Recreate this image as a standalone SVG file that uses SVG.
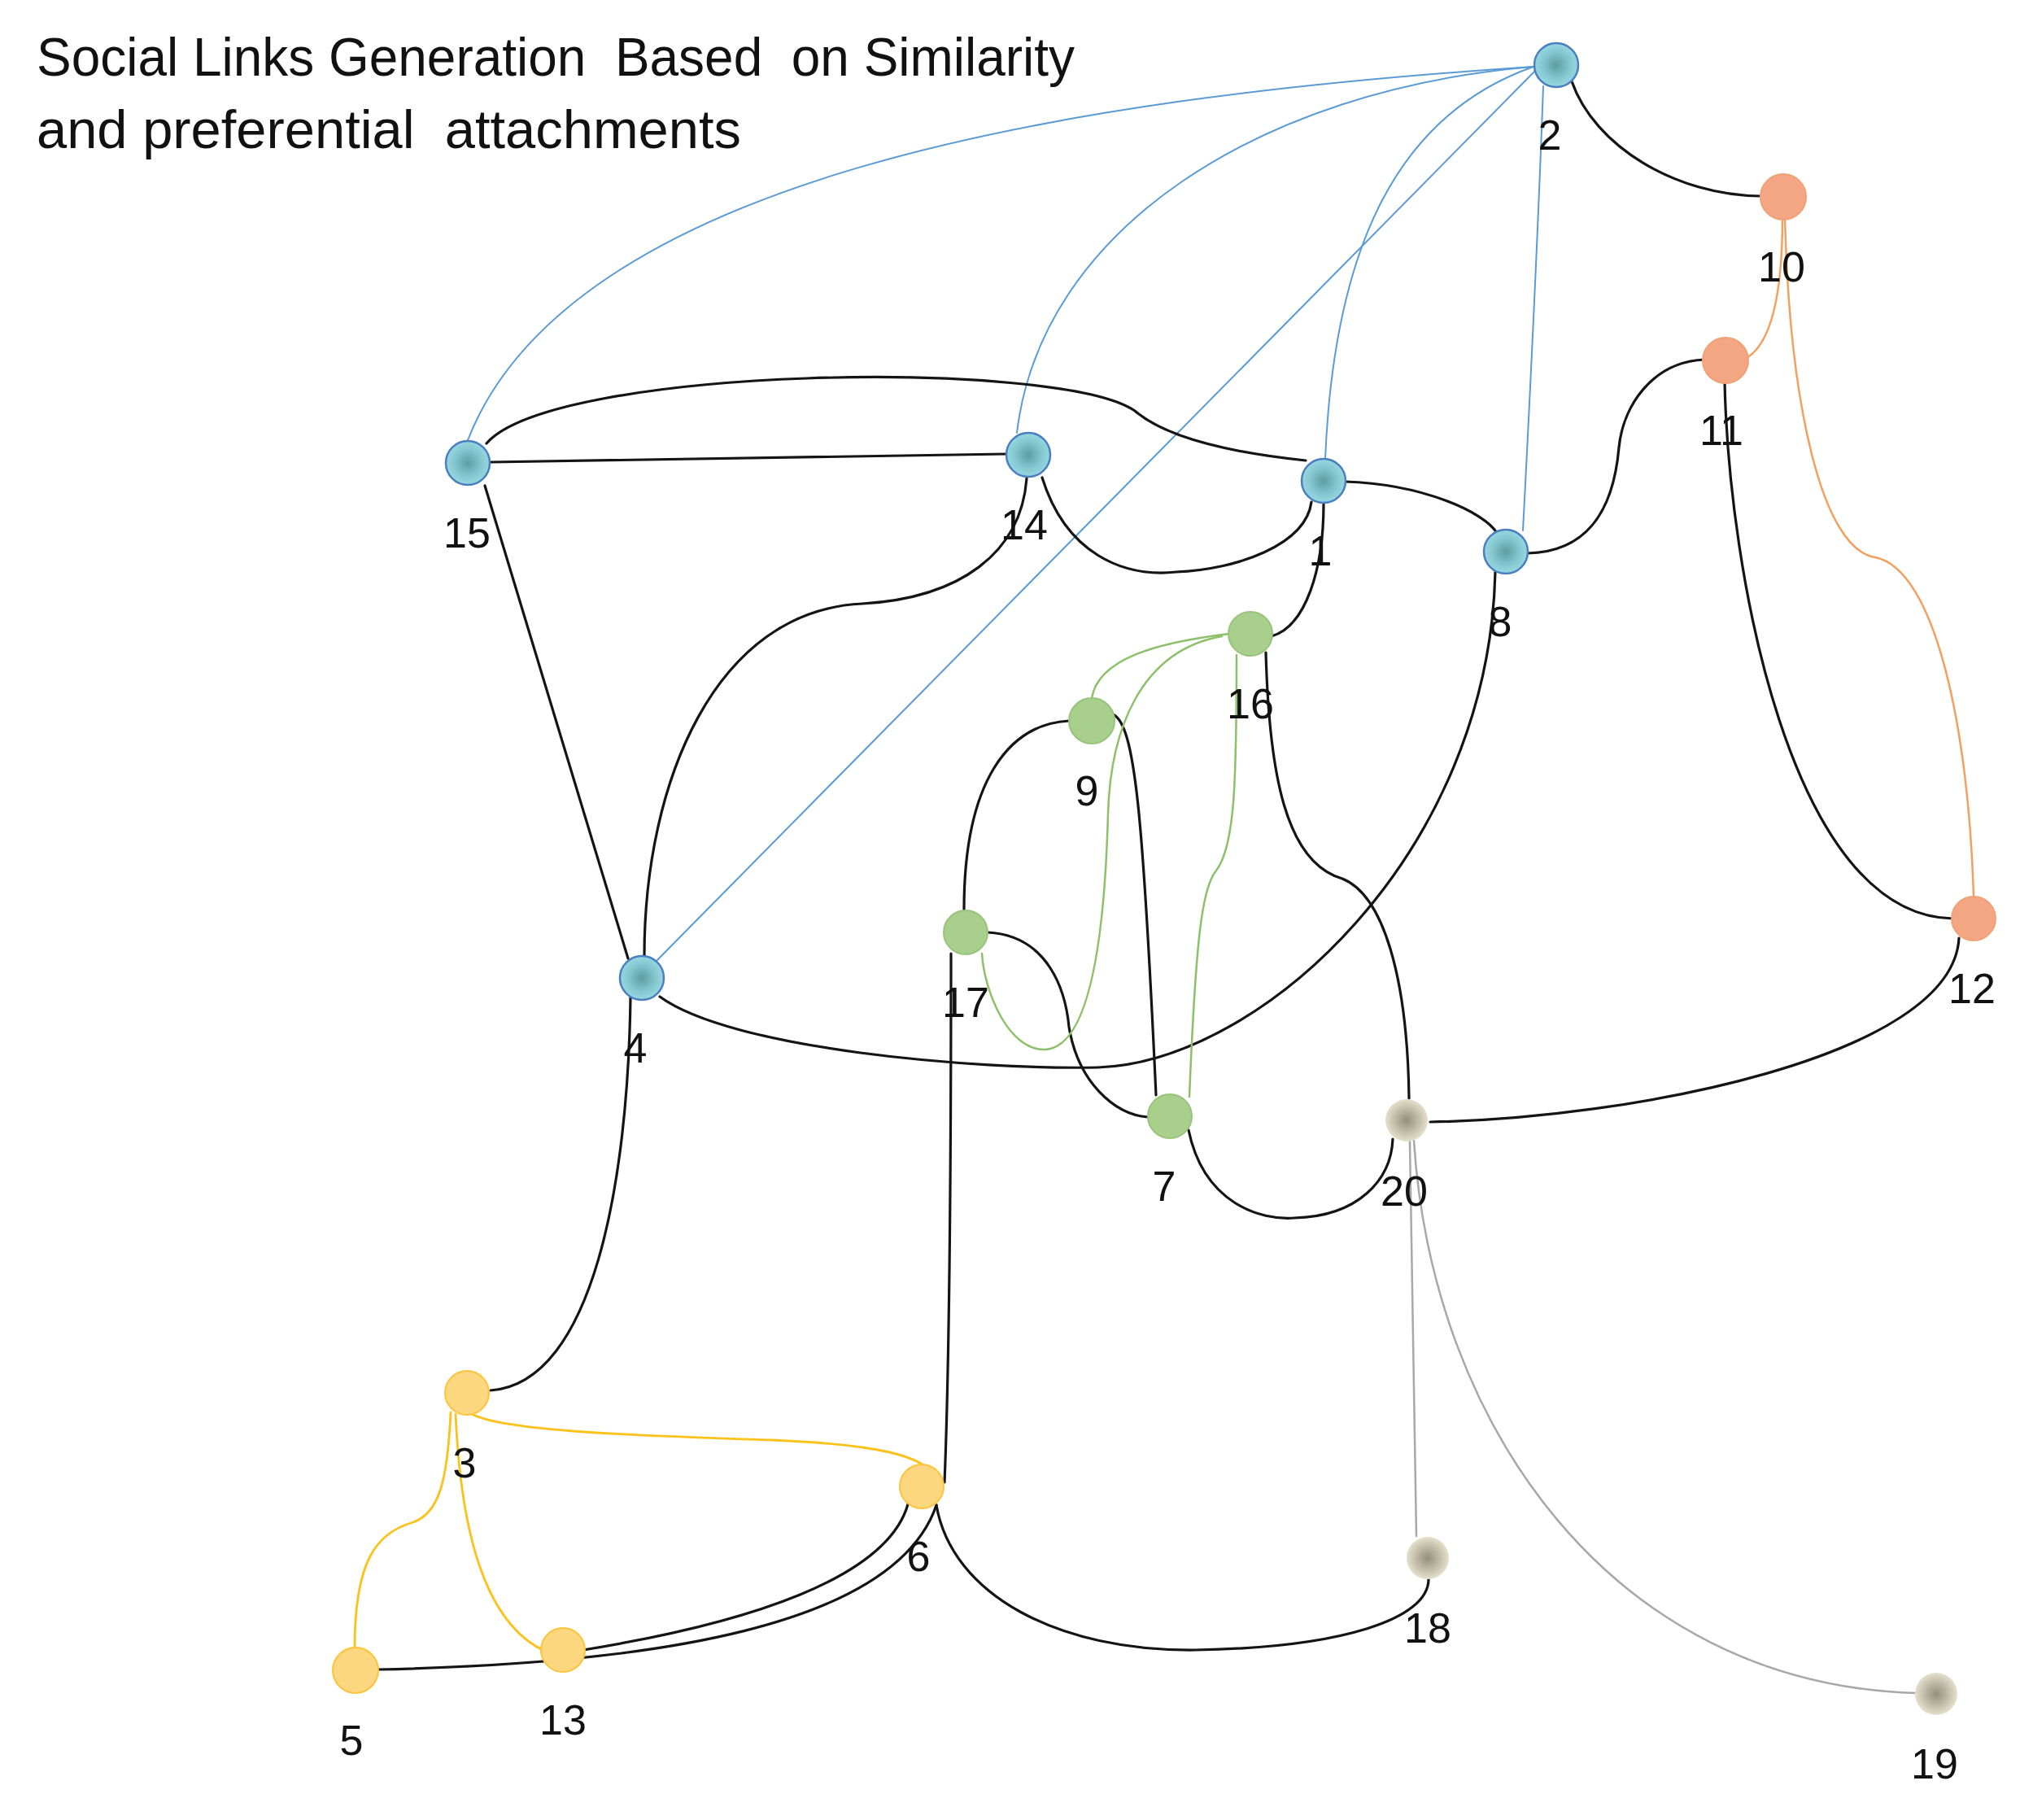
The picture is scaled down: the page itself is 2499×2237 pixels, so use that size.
<svg xmlns="http://www.w3.org/2000/svg" width="2499" height="2237" viewBox="0 0 2499 2237">
<defs>
<radialGradient id="gBlue" cx="0.5" cy="0.5" r="0.5">
<stop offset="0" stop-color="#5d9ca2"/>
<stop offset="0.6" stop-color="#84c6cf"/>
<stop offset="1" stop-color="#97d7e0"/>
</radialGradient>
<radialGradient id="gTan" cx="0.5" cy="0.5" r="0.5">
<stop offset="0" stop-color="#958f77"/>
<stop offset="1" stop-color="#e4e0cd"/>
</radialGradient>
<style>
.e{fill:none;stroke-linecap:round}
.k{stroke:#141414;stroke-width:3.2}
.b{stroke:#5b9bd5;stroke-width:2}
.o{stroke:#f2a060;stroke-width:2.5}
.g{stroke:#8cc06b;stroke-width:2.5}
.y{stroke:#fbc21c;stroke-width:2.8}
.s{stroke:#a8a8a8;stroke-width:2.5}
.nb{fill:url(#gBlue);stroke:#4a7fc0;stroke-width:2.5}
.no{fill:#f4a583;stroke:#f0a274;stroke-width:2}
.ng{fill:#a8d08c;stroke:#97c37c;stroke-width:2}
.ny{fill:#fdd680;stroke:#fcc43a;stroke-width:2}
.nt{fill:url(#gTan);stroke:none}
.lbl{font-family:"Liberation Sans",Arial,sans-serif;font-size:52px;fill:#111;text-anchor:middle}
.ttl{font-family:"Liberation Sans Narrow","Liberation Sans",Arial,sans-serif;font-size:67px;fill:#111;white-space:pre}
</style>
</defs>
<rect width="2499" height="2237" fill="#ffffff"/>
<g id="title">
<text class="ttl" x="45" y="93" textLength="1276" lengthAdjust="spacingAndGlyphs" xml:space="preserve">Social Links Generation  Based  on Similarity</text>
<text class="ttl" x="45" y="182" textLength="866" lengthAdjust="spacingAndGlyphs" xml:space="preserve">and preferential  attachments</text>
</g>
<g id="connectors">
<path class="e b" d="M 1885 82 C 1300 120 700 220 575 541"/>
<path class="e b" d="M 1885 82 C 1550 110 1280 280 1250 532"/>
<path class="e b" d="M 1885 82 C 1720 140 1640 300 1629 564"/>
<path class="e b" d="M 1890 84 L 805 1183"/>
<path class="e b" d="M 1897 106 C 1890 300 1880 500 1872 652"/>
<path class="e k" d="M 1932 100 C 1960 180 2060 240 2164 241"/>
<path class="e o" d="M 2191 268 C 2191 350 2180 420 2147 440"/>
<path class="e o" d="M 2194 268 C 2200 500 2240 675 2305 685 C 2380 700 2420 900 2426 1100"/>
<path class="e k" d="M 2095 442 C 2030 445 1995 500 1990 550 C 1983 630 1950 678 1878 680"/>
<path class="e k" d="M 2120 470 C 2125 700 2200 1125 2400 1129"/>
<path class="e k" d="M 603 568 L 1236 558"/>
<path class="e k" d="M 598 545 C 680 450 1300 440 1395 505 C 1430 535 1500 555 1605 566"/>
<path class="e k" d="M 1281 587 C 1310 680 1380 710 1446 703 C 1520 700 1605 670 1612 617"/>
<path class="e k" d="M 1262 588 C 1255 680 1180 735 1060 742 C 880 750 792 960 792 1175"/>
<path class="e k" d="M 596 597 L 772 1178"/>
<path class="e k" d="M 1653 592 C 1750 595 1825 630 1840 655"/>
<path class="e k" d="M 1627 619 C 1627 700 1605 770 1563 782"/>
<path class="e k" d="M 811 1225 C 900 1290 1200 1315 1350 1312 C 1550 1305 1830 1050 1838 703"/>
<path class="e k" d="M 1556 802 C 1560 950 1580 1060 1650 1080 C 1700 1100 1730 1200 1732 1350"/>
<path class="e k" d="M 1314 886 C 1240 890 1185 960 1185 1118"/>
<path class="e k" d="M 1368 878 C 1395 890 1405 1000 1421 1346"/>
<path class="e k" d="M 1214 1146 C 1290 1150 1310 1220 1314 1262 C 1325 1330 1370 1370 1411 1373"/>
<path class="e k" d="M 1169 1172 C 1169 1500 1166 1700 1161 1822"/>
<path class="e k" d="M 1461 1389 C 1480 1480 1550 1500 1591 1497 C 1670 1495 1710 1450 1712 1400"/>
<path class="e k" d="M 1758 1379 C 2000 1375 2400 1300 2408 1153"/>
<path class="e k" d="M 775 1226 C 772 1450 730 1700 603 1709"/>
<path class="e k" d="M 1151 1850 C 1170 1960 1300 2030 1470 2028 C 1650 2025 1756 1990 1756 1941"/>
<path class="e k" d="M 465 2052 C 800 2045 1100 2000 1151 1850"/>
<path class="e k" d="M 717 2028 C 920 1995 1090 1940 1116 1849"/>
<path class="e y" d="M 580 1738 C 620 1760 800 1765 950 1770 C 1060 1775 1110 1785 1134 1800"/>
<path class="e y" d="M 554 1736 C 550 1820 540 1862 505 1872 C 462 1885 436 1920 436 2025"/>
<path class="e y" d="M 560 1738 C 565 1850 585 1985 665 2027"/>
<path class="e g" d="M 1511 779 C 1420 790 1350 810 1342 858"/>
<path class="e g" d="M 1502 782 C 1400 800 1365 900 1362 1000 C 1358 1150 1340 1290 1283 1290 C 1240 1290 1210 1220 1207 1172"/>
<path class="e g" d="M 1520 805 C 1520 960 1518 1040 1495 1070 C 1478 1090 1470 1150 1462 1348"/>
<path class="e s" d="M 1733 1403 L 1741 1888"/>
<path class="e s" d="M 1738 1402 C 1760 1750 1980 2070 2355 2081"/>
</g>
<g id="node-2"><circle class="nb" cx="1913" cy="80" r="27"/><text class="lbl" x="1905" y="184">2</text></g>
<g id="node-10"><circle class="no" cx="2192" cy="242" r="28"/><text class="lbl" x="2190" y="346">10</text></g>
<g id="node-11"><circle class="no" cx="2121" cy="443" r="28"/><text class="lbl" x="2116" y="547">11</text></g>
<g id="node-15"><circle class="nb" cx="575" cy="569" r="27"/><text class="lbl" x="574" y="673">15</text></g>
<g id="node-14"><circle class="nb" cx="1264" cy="559" r="27"/><text class="lbl" x="1259" y="663">14</text></g>
<g id="node-1"><circle class="nb" cx="1627" cy="591" r="27"/><text class="lbl" x="1623" y="695">1</text></g>
<g id="node-8"><circle class="nb" cx="1851" cy="678" r="27"/><text class="lbl" x="1844" y="782">8</text></g>
<g id="node-16"><circle class="ng" cx="1537" cy="779" r="27"/><text class="lbl" x="1537" y="883">16</text></g>
<g id="node-9"><circle class="ng" cx="1342" cy="886" r="28"/><text class="lbl" x="1336" y="990">9</text></g>
<g id="node-17"><circle class="ng" cx="1187" cy="1146" r="27"/><text class="lbl" x="1187" y="1250">17</text></g>
<g id="node-4"><circle class="nb" cx="789" cy="1202" r="27"/><text class="lbl" x="781" y="1306">4</text></g>
<g id="node-12"><circle class="no" cx="2426" cy="1129" r="27"/><text class="lbl" x="2424" y="1233">12</text></g>
<g id="node-7"><circle class="ng" cx="1438" cy="1372" r="27"/><text class="lbl" x="1431" y="1476">7</text></g>
<g id="node-20"><circle class="nt" cx="1729" cy="1377" r="26"/><text class="lbl" x="1726" y="1482">20</text></g>
<g id="node-3"><circle class="ny" cx="574" cy="1712" r="27"/><text class="lbl" x="571" y="1816">3</text></g>
<g id="node-6"><circle class="ny" cx="1133" cy="1827" r="27"/><text class="lbl" x="1129" y="1931">6</text></g>
<g id="node-18"><circle class="nt" cx="1755" cy="1915" r="26"/><text class="lbl" x="1755" y="2019">18</text></g>
<g id="node-5"><circle class="ny" cx="437" cy="2053" r="28"/><text class="lbl" x="432" y="2157">5</text></g>
<g id="node-13"><circle class="ny" cx="692" cy="2028" r="27"/><text class="lbl" x="692" y="2132">13</text></g>
<g id="node-19"><circle class="nt" cx="2380" cy="2082" r="26"/><text class="lbl" x="2378" y="2186">19</text></g>
</svg>
